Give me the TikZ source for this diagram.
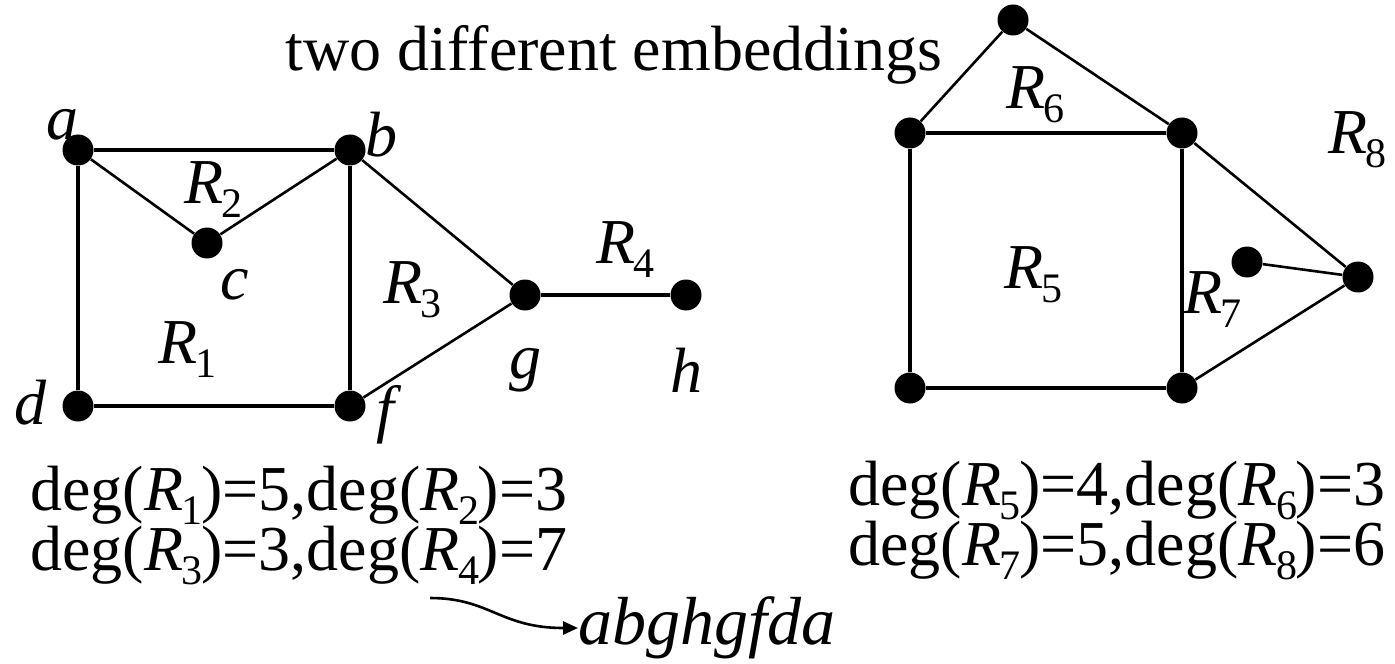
\documentclass[tikz,border=0pt]{standalone}
\usepackage{fontspec}
\setmainfont{Liberation Serif}
\usetikzlibrary{arrows.meta}
\newcommand{\Rg}[1]{\textit{R}\kern-0.8pt\raisebox{-7pt}{\fontsize{21}{21}\selectfont #1}\kern-0.6pt}

\begin{document}
\begin{tikzpicture}[x=0.5pt,y=-0.5pt,font=\fontsize{32}{38}\selectfont,
   vertex/.style={circle,fill,inner sep=0pt,minimum size=15.5pt},
   thickedge/.style={line width=1.8pt},
   thinedge/.style={line width=1.3pt},
   vlabel/.style={inner sep=0pt,font=\fontsize{32}{38}\selectfont\itshape},
   rlabel/.style={inner sep=0pt}]
  \useasboundingbox (0,0) rectangle (1395,663);
  % first embedding
  \node[vertex] (a) at (78,150) {};
  \node[vertex] (b) at (350,150) {};
  \node[vertex] (c) at (207,243) {};
  \node[vertex] (d) at (78,406) {};
  \node[vertex] (f) at (350,406) {};
  \node[vertex] (g) at (525,295) {};
  \node[vertex] (h) at (686,295) {};
  \draw[thickedge] (a) -- (b) -- (f) -- (d) -- (a);
  \draw[thickedge] (g) -- (h);
  \draw[thinedge] (a) -- (c) -- (b);
  \draw[thinedge] (b) -- (g) -- (f);
  \node[vlabel] (la) at (62,125) {a};
  \node[vlabel] (lb) at (381,135) {b};
  \node[vlabel] (lc) at (235,285) {c};
  \node[vlabel] (ld) at (30,403) {d};
  \node[vlabel] (lf) at (385,415) {f};
  \node[vlabel] (lg) at (525,370) {g};
  \node[vlabel] (lh) at (686,370) {h};
  \node[rlabel] (r1) at (187,350) {\Rg{1}};
  \node[rlabel] (r2) at (213,190) {\Rg{2}};
  \node[rlabel] (r3) at (412,290) {\Rg{3}};
  \node[rlabel] (r4) at (625,250) {\Rg{4}};
  % second embedding
  \node[vertex] (top) at (1013,20) {};
  \node[vertex] (tl) at (910,133) {};
  \node[vertex] (tr) at (1182,133) {};
  \node[vertex] (bl) at (910,388) {};
  \node[vertex] (br) at (1182,388) {};
  \node[vertex] (p) at (1247,262) {};
  \node[vertex] (q) at (1358,277) {};
  \draw[thickedge] (tl) -- (tr) -- (br) -- (bl) -- (tl);
  \draw[thinedge] (tl) -- (top) -- (tr);
  \draw[thinedge] (tr) -- (q) -- (br);
  \draw[thinedge] (p) -- (q);
  \node[rlabel] (r5) at (1033,275) {\Rg{5}};
  \node[rlabel] (r6) at (1035,95) {\Rg{6}};
  \node[rlabel] (r7) at (1212,300) {\Rg{7}};
  \node[rlabel] (r8) at (1357,140) {\Rg{8}};
  % texts
  \node[inner sep=0pt] (title) at (614,55) {two different embeddings};
  \node[inner sep=0pt,anchor=west] (deg12) at (30,495) {deg(\Rg{1})=5,deg(\Rg{2})=3};
  \node[inner sep=0pt,anchor=west] (deg34) at (30,555) {deg(\Rg{3})=3,deg(\Rg{4})=7};
  \node[inner sep=0pt,anchor=west] (deg56) at (848,490) {deg(\Rg{5})=4,deg(\Rg{6})=3};
  \node[inner sep=0pt,anchor=west] (deg78) at (848,550) {deg(\Rg{7})=5,deg(\Rg{8})=6};
  \node[inner sep=0pt,anchor=west,font=\fontsize{34}{40}\selectfont\itshape] (walk) at (578,628) {abghgfda};
  \coordinate (wstart) at (430,598);
  \draw[line width=1.3pt,-{Triangle[length=7.5pt,width=6.5pt]}] (wstart) .. controls (490,598) and (500,628) .. (walk.west);
\end{tikzpicture}
\end{document}
